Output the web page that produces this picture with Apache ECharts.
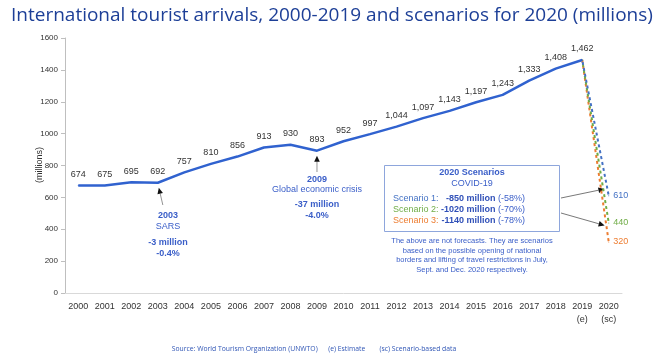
<!DOCTYPE html>
<html><head><meta charset="utf-8">
<script src="https://cdn.jsdelivr.net/npm/echarts@6/dist/echarts.min.js"></script>
<style>html,body{margin:0;padding:0;background:#fff}#c{width:667px;height:359px}</style>
</head><body><div id="c"></div>
<script>
const years = ['2000','2001','2002','2003','2004','2005','2006','2007','2008','2009','2010','2011','2012','2013','2014','2015','2016','2017','2018','2019','2020'];
const xLabels = ['2000','2001','2002','2003','2004','2005','2006','2007','2008','2009','2010','2011','2012','2013','2014','2015','2016','2017','2018','2019\n(e)','2020\n(sc)'];
const arrivals = [674,675,695,692,757,810,856,913,930,893,952,997,1044,1097,1143,1197,1243,1333,1408,1462];
const scenario1 = 610;
const scenario2 = 440;
const scenario3 = 320;
const yTicks = [0,200,400,600,800,1000,1200,1400,1600];

const BLUE = '#3062cf', SC1 = '#4472c4', SC2 = '#70ad47', SC3 = '#ed7d31', TXT = '#3a5ec8';
const ARIAL = '"Liberation Sans", Arial, sans-serif';
const OPEN = '"Open Sans", sans-serif';

function scen(v){ const a = new Array(21).fill(null); a[19] = arrivals[19]; a[20] = v; return a; }
function scenSeries(v, col, off){
  return {type:'line', data:scen(v), symbol:'circle', symbolSize:1, showSymbol:true, z:2,
    itemStyle:{color:col}, lineStyle:{color:col, width:2, type:[3,3], dashOffset:off},
    label:{show:true, position:'right', distance:4, fontFamily:ARIAL, fontSize:9, color:col,
      formatter:p=>p.dataIndex===20?String(p.value):''}};
}

const chart = echarts.init(document.getElementById('c'));
const option = {
  animation:false,
  title:{text:'International tourist arrivals, 2000-2019 and scenarios for 2020 (millions)', left:6, top:1,
    textStyle:{fontFamily:OPEN, fontSize:19, fontWeight:'normal', color:'#1d3f97'}},
  grid:{left:65, right:45, top:38, bottom:66},
  xAxis:{type:'category', data:xLabels, boundaryGap:true,
    axisLine:{lineStyle:{color:'#d9d9d9', width:1}}, axisTick:{show:false},
    axisLabel:{fontFamily:ARIAL, fontSize:9, color:'#333', margin:7, lineHeight:13, interval:0}},
  yAxis:{type:'value', min:yTicks[0], max:yTicks[yTicks.length-1], interval:200,
    axisLine:{show:true, lineStyle:{color:'#bfbfbf'}}, axisTick:{show:true, length:4, lineStyle:{color:'#bfbfbf'}},
    splitLine:{show:false},
    axisLabel:{fontFamily:ARIAL, fontSize:8, color:'#333', margin:7, formatter:v=>String(v)}},
  series:[
    scenSeries(scenario3, SC3, 0),
    scenSeries(scenario2, SC2, 2),
    scenSeries(scenario1, SC1, 4),
    {type:'line', data:arrivals, symbol:'circle', symbolSize:1, showSymbol:true, z:3,
      itemStyle:{color:BLUE},
      lineStyle:{color:BLUE, width:2.5},
      label:{show:true, position:'top', distance:6, fontFamily:ARIAL, fontSize:9, color:'#333',
        formatter:p=>p.value.toLocaleString('en-US')}}
  ]
};
chart.setOption(option);

const px = (i,v)=>chart.convertToPixel({xAxisIndex:0,yAxisIndex:0},[i,v]);
const p2003 = px(3,arrivals[3]);
const p2009 = px(9,arrivals[9]);
const p19 = px(19,arrivals[19]);
function along(v,t){ const p20 = px(20,v); return [p19[0]+(p20[0]-p19[0])*t, p19[1]+(p20[1]-p19[1])*t]; }
const pS1 = along(scenario1,0.95);
const pS3 = along(scenario3,0.92);

function arrow(x1,y1,x2,y2,col){
  const a = Math.atan2(y2-y1,x2-x1), L=6, W=2.8;
  const bx = x2-L*Math.cos(a), by = y2-L*Math.sin(a);
  return [
    {type:'line', shape:{x1,y1,x2:bx,y2:by}, style:{stroke:col, lineWidth:0.8}},
    {type:'polygon', shape:{points:[[x2,y2],[bx+W*Math.sin(a),by-W*Math.cos(a)],[bx-W*Math.sin(a),by+W*Math.cos(a)]]}, style:{fill:'#111'}}
  ];
}
function txt(x,y,t,opt){
  return {type:'text', x, y, style:Object.assign({text:t, fontFamily:ARIAL, fontSize:9, fill:TXT, align:'center', verticalAlign:'middle'}, opt||{})};
}

const g = [];
// y-axis name
g.push({type:'text', x:40, y:165, rotation:Math.PI/2, style:{text:'(millions)', fontFamily:ARIAL, fontSize:9, fill:'#333', align:'center', verticalAlign:'middle'}});
// 2003
g.push(...arrow(p2003[0]+5, 205, p2003[0]+1, p2003[1]+5, '#777'));
g.push(txt(168,216,'2003',{fontWeight:'bold'}));
g.push(txt(168,227,'SARS'));
g.push(txt(168,243,'-3 million',{fontWeight:'bold'}));
g.push(txt(168,254,'-0.4%',{fontWeight:'bold'}));
// 2009
g.push(...arrow(p2009[0], 172, p2009[0], p2009[1]+5, '#777'));
g.push(txt(p2009[0],180,'2009',{fontWeight:'bold'}));
g.push(txt(p2009[0],190,'Global economic crisis'));
g.push(txt(p2009[0],205,'-37 million',{fontWeight:'bold'}));
g.push(txt(p2009[0],216,'-4.0%',{fontWeight:'bold'}));
// Scenario box
g.push({type:'rect', shape:{x:384.5,y:165.5,width:175,height:66}, style:{fill:'#fff', stroke:'#8ea6dc', lineWidth:1}});
g.push(txt(472,173,'2020 Scenarios',{fontWeight:'bold'}));
g.push(txt(472,184,'COVID-19'));
const rows = [['Scenario 1:','-850 million','(-58%)',SC1,199],['Scenario 2:','-1020 million','(-70%)',SC2,210],['Scenario 3:','-1140 million','(-78%)',SC3,221]];
rows.forEach(r=>{
  g.push(txt(393,r[4],r[0],{align:'left', fill:r[3]}));
  g.push({type:'text', x:525, y:r[4], style:{rich:{b:{fontFamily:ARIAL,fontSize:9,fontWeight:'bold',fill:'#3050b8'}, n:{fontFamily:ARIAL,fontSize:9,fill:TXT}},
    text:'{b|'+r[1]+'}{n| '+r[2]+'}', align:'right', verticalAlign:'middle'}});
});
const note = ['The above are not forecasts. They are scenarios','based on the possible opening of national','borders and lifting of travel restrictions in July,','Sept. and Dec. 2020 respectively.'];
note.forEach((l,i)=>g.push(txt(472,241+i*9.6,l,{fontSize:7.5})));
g.push(...arrow(561,198,pS1[0]-3,pS1[1],'#555'));
g.push(...arrow(561,213,pS3[0]-2,pS3[1]-2,'#555'));
// footer
g.push({type:'text', x:314, y:349, style:{text:'Source: World Tourism Organization (UNWTO)      (e) Estimate        (sc) Scenario-based data',
  fontFamily:OPEN, fontSize:6.8, fill:'#2f55b5', align:'center', verticalAlign:'middle'}});
chart.setOption({graphic:g});
</script></body></html>
